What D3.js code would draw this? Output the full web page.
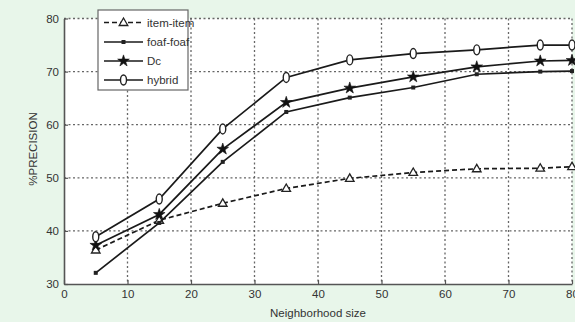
<!DOCTYPE html>
<html><head><meta charset="utf-8">
<script src="https://cdn.jsdelivr.net/npm/d3@7"></script>
<style>
html,body{margin:0;padding:0;background:#e8f6ea;}
svg{display:block;}
text{font-family:"Liberation Sans",Arial,sans-serif;fill:#333;}
</style></head>
<body>
<svg id="c" width="575" height="322"></svg>
<script>
const xValues = [5, 15, 25, 35, 45, 55, 65, 75, 80];
const itemItem = [36.4, 42.0, 45.2, 48.0, 49.9, 51.0, 51.7, 51.8, 52.1];
const foafFoaf = [32.1, 41.5, 53.0, 62.4, 65.1, 67.0, 69.5, 70.0, 70.1];
const dc       = [37.3, 43.1, 55.4, 64.2, 66.9, 69.0, 70.9, 72.0, 72.1];
const hybrid   = [38.9, 46.0, 59.2, 68.9, 72.2, 73.4, 74.1, 75.0, 75.0];
const seriesNames = ["item-item", "foaf-foaf", "Dc", "hybrid"];
const xTicks = [0, 10, 20, 30, 40, 50, 60, 70, 80];
const yTicks = [30, 40, 50, 60, 70, 80];

const svg = d3.select("#c");
const L = 64, R = 572, T = 18.5, B = 284;
const x = d3.scaleLinear().domain([0, 80]).range([L, R]);
const y = d3.scaleLinear().domain([30, 80]).range([B, T]);

svg.append("rect").attr("x", L).attr("y", T).attr("width", R - L).attr("height", B - T).attr("fill", "#fff");

// grid
const g = svg.append("g");
g.selectAll(".gx").data(xTicks.slice(1)).join("line")
  .attr("x1", d => x(d)).attr("x2", d => x(d)).attr("y1", T).attr("y2", B)
  .attr("stroke", "#666").attr("stroke-width", 1.3).attr("stroke-dasharray", "2,2.5");
g.selectAll(".gy").data(yTicks.slice(1)).join("line")
  .attr("x1", L).attr("x2", R).attr("y1", d => y(d)).attr("y2", d => y(d))
  .attr("stroke", "#666").attr("stroke-width", 1.3).attr("stroke-dasharray", "2,2.5");

// axes
const xAxis = d3.axisBottom(x).tickValues(xTicks).tickSize(-4).tickPadding(6).tickSizeOuter(0);
const yAxis = d3.axisLeft(y).tickValues(yTicks).tickSize(-4).tickPadding(5).tickSizeOuter(0);
const gx = svg.append("g").attr("transform", `translate(0,${B})`).call(xAxis);
const gy = svg.append("g").attr("transform", `translate(${L},0)`).call(yAxis);
[gx, gy].forEach(a => {
  a.select(".domain").attr("stroke", "#555").attr("stroke-width", 1.6);
  a.selectAll(".tick line").attr("stroke", "#555").attr("stroke-width", 1.2);
  a.selectAll("text").attr("font-size", 11.5).attr("fill", "#444")
    .style("font-family", "Liberation Sans, Arial, sans-serif");
});

svg.append("text").attr("x", 318).attr("y", 317).attr("text-anchor", "middle")
  .attr("font-size", 11.5).text("Neighborhood size");
svg.append("text").attr("transform", "translate(37,149) rotate(-90)").attr("text-anchor", "middle")
  .attr("font-size", 11.5).text("%PRECISION");

// series
const series = [
  {name: seriesNames[0], vals: itemItem, dash: "5,3", marker: "tri"},
  {name: seriesNames[1], vals: foafFoaf, dash: null, marker: "sq"},
  {name: seriesNames[2], vals: dc, dash: null, marker: "star"},
  {name: seriesNames[3], vals: hybrid, dash: null, marker: "dia"}
];
const line = d3.line().x(d => x(d[0])).y(d => y(d[1]));

function drawMarker(sel, type, cx, cy) {
  if (type === "tri") {
    sel.append("path").attr("d", d3.symbol(d3.symbolTriangle, 32)())
      .attr("transform", `translate(${cx},${cy + 0.5})`)
      .attr("fill", "#fff").attr("stroke", "#222").attr("stroke-width", 1.3);
  } else if (type === "sq") {
    sel.append("rect").attr("x", cx - 2).attr("y", cy - 2).attr("width", 4).attr("height", 4).attr("fill", "#222");
  } else if (type === "star") {
    sel.append("path").attr("d", d3.symbol(d3.symbolStar, 42)())
      .attr("transform", `translate(${cx},${cy})`).attr("fill", "#111").attr("stroke", "#111").attr("stroke-width", 0.6);
  } else {
    sel.append("ellipse").attr("cx", cx).attr("cy", cy).attr("rx", 3).attr("ry", 5)
      .attr("fill", "#fff").attr("stroke", "#222").attr("stroke-width", 1.4);
  }
}

const sg = svg.append("g");
series.forEach(s => {
  const pts = xValues.map((xv, i) => [xv, s.vals[i]]);
  sg.append("path").datum(pts).attr("d", line).attr("fill", "none")
    .attr("stroke", "#1a1a1a").attr("stroke-width", 1.7)
    .attr("stroke-dasharray", s.dash);
  pts.forEach(p => drawMarker(sg, s.marker, x(p[0]), y(p[1])));
});

// legend
const lg = svg.append("g");
lg.append("rect").attr("x", 98).attr("y", 10).attr("width", 90).attr("height", 80)
  .attr("fill", "#fff").attr("stroke", "#666").attr("stroke-width", 1.2);
const ly = [22.5, 42, 61, 80];
series.forEach((s, i) => {
  lg.append("line").attr("x1", 104).attr("x2", 143).attr("y1", ly[i]).attr("y2", ly[i])
    .attr("stroke", "#1a1a1a").attr("stroke-width", 1.7).attr("stroke-dasharray", s.dash);
  drawMarker(lg, s.marker, 123.5, ly[i]);
  lg.append("text").attr("x", 147).attr("y", ly[i] + 4).attr("font-size", 11.5).text(s.name);
});
</script>
</body></html>
